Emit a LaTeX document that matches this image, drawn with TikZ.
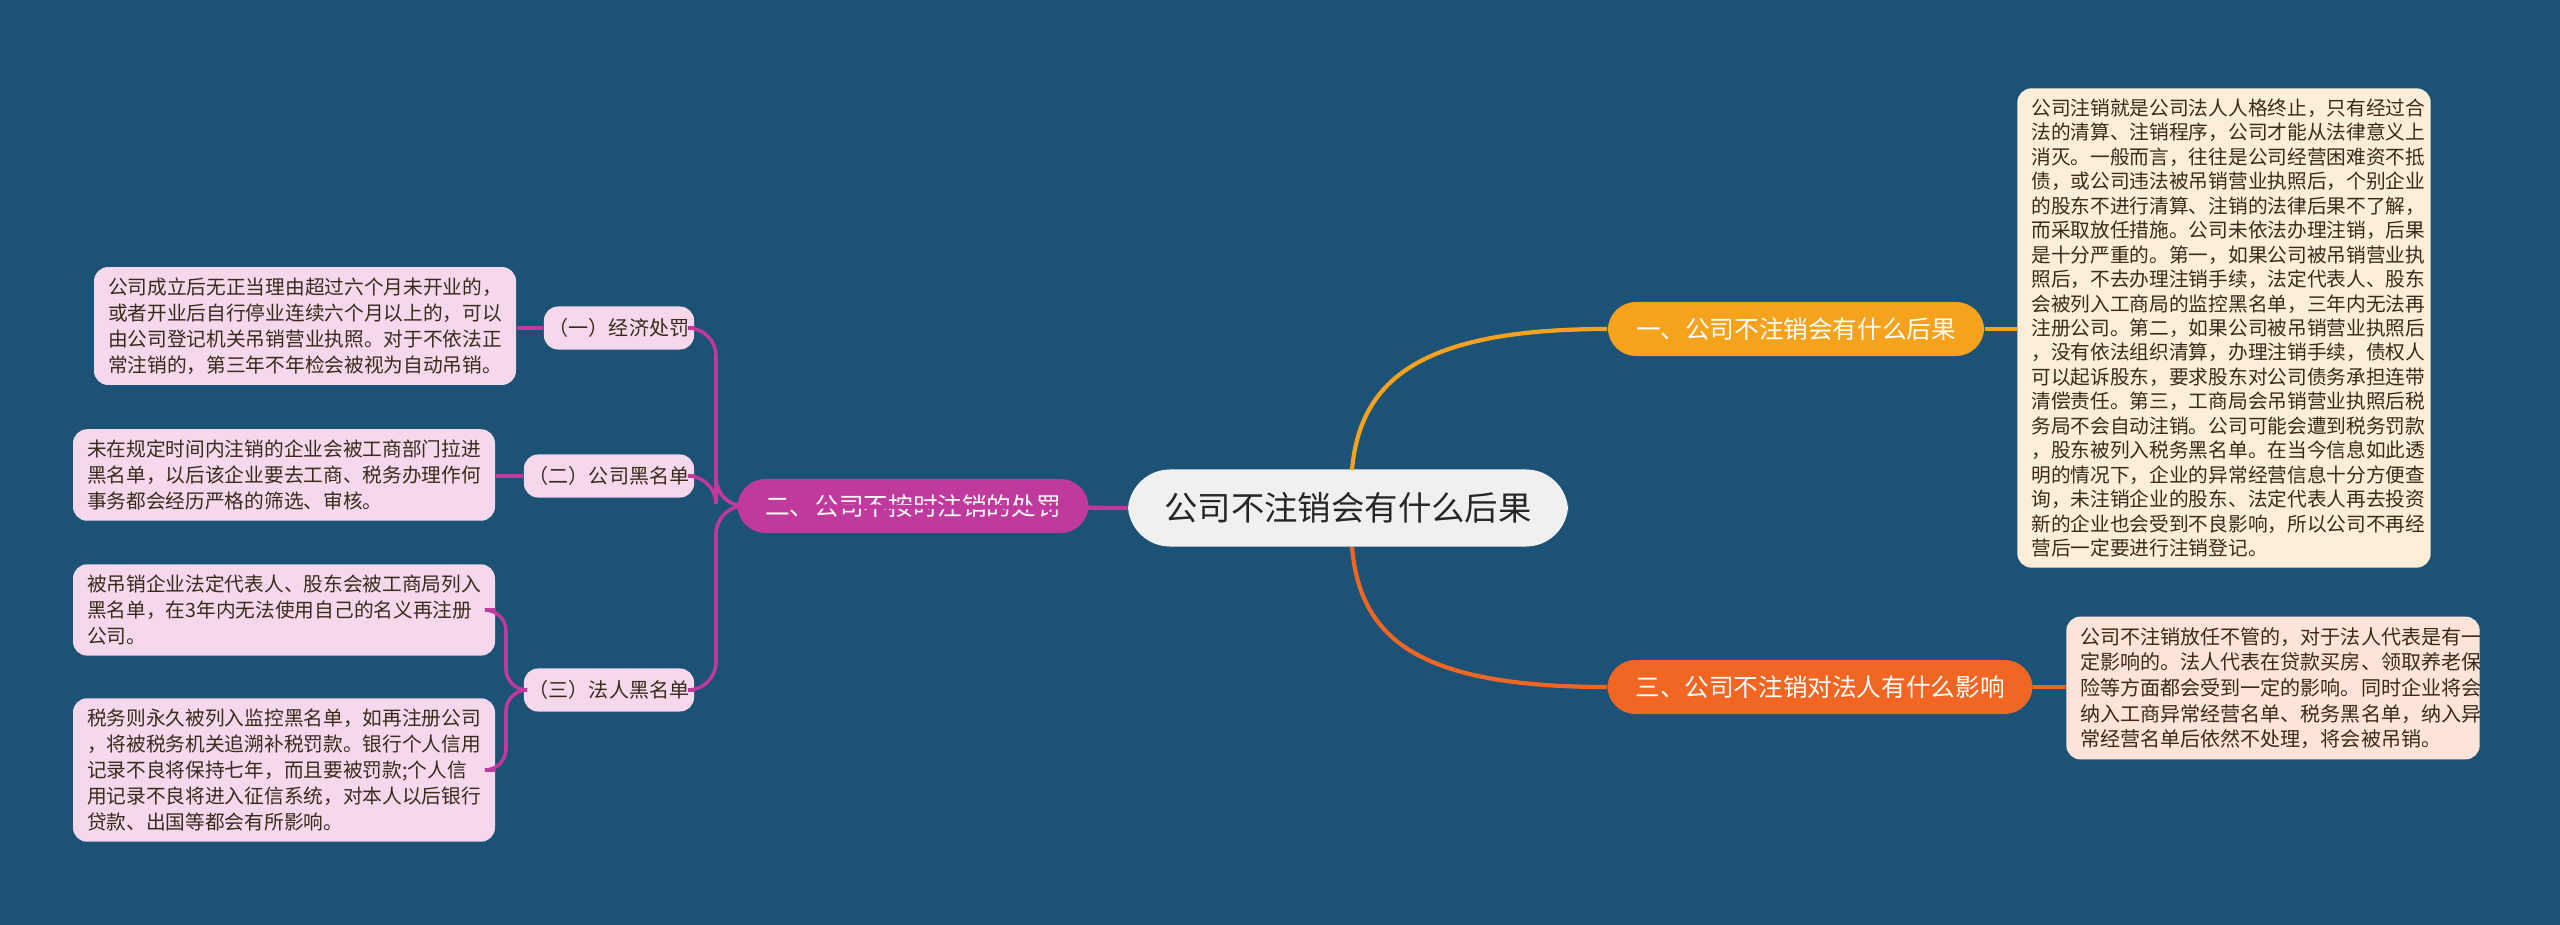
\documentclass[tikz,border=0pt]{standalone}
\usepackage{fontspec}
\setmainfont{Noto Sans CJK SC}
\definecolor{bg}{HTML}{1B5276}
\definecolor{cO}{HTML}{F5A21C}
\definecolor{cR}{HTML}{F26624}
\definecolor{cM}{HTML}{C0399C}
\definecolor{pinkf}{HTML}{F5D8EC}
\definecolor{cream}{HTML}{FDEED8}
\definecolor{peach}{HTML}{FDE3D8}
\definecolor{txt}{HTML}{3A2A1A}
\begin{document}
\begin{tikzpicture}[x=0.01cm,y=-0.01cm,
  leaf/.style={draw=none,rounded corners=4pt,fill=pinkf,text=txt,align=left,inner xsep=4pt,inner ysep=3pt,font=\fontsize{5.6}{7.4}\selectfont,minimum width=4.08cm},
  sub/.style={rounded corners=4pt,fill=pinkf,text=txt,font=\fontsize{5.7}{7}\selectfont,minimum width=1.7cm,minimum height=0.43cm,inner sep=1pt,align=right},
  branch/.style={rounded corners=8pt,text=white,font=\fontsize{7}{8}\selectfont,minimum height=0.54cm,inner xsep=6pt},
  rbox/.style={rounded corners=4pt,text=txt,align=left,inner xsep=4pt,inner ysep=3pt,text width=3.85cm}]
\fill[bg] (0,0) rectangle (2560,925);
\useasboundingbox (0,0) rectangle (2560,925);
% center
\node[rounded corners=12pt,fill=white!94!black,font=\fontsize{9.5}{11}\selectfont,text=black!85,minimum width=4.4cm,minimum height=0.77cm] (c) at (1348,508) {公司不注销会有什么后果};
% branches
\node[branch,fill=cO,minimum width=3.76cm] (b1) at (1796,329) {一、公司不注销会有什么后果};
\node[branch,fill=cR,minimum width=4.25cm] (b3) at (1820,687) {三、公司不注销对法人有什么影响};
\node[branch,fill=cM,minimum width=3.51cm] (b2) at (913,506) {二、公司不按时注销的处罚};
% right boxes
\node[rbox,fill=cream,font=\fontsize{5.6}{6.95}\selectfont] (r1) at (2224,328) {公司注销就是公司法人人格终止，只有经过合\\法的清算、注销程序，公司才能从法律意义上\\消灭。一般而言，往往是公司经营困难资不抵\\债，或公司违法被吊销营业执照后，个别企业\\的股东不进行清算、注销的法律后果不了解，\\而采取放任措施。公司未依法办理注销，后果\\是十分严重的。第一，如果公司被吊销营业执\\照后，不去办理注销手续，法定代表人、股东\\会被列入工商局的监控黑名单，三年内无法再\\注册公司。第二，如果公司被吊销营业执照后\\，没有依法组织清算，办理注销手续，债权人\\可以起诉股东，要求股东对公司债务承担连带\\清偿责任。第三，工商局会吊销营业执照后税\\务局不会自动注销。公司可能会遭到税务罚款\\，股东被列入税务黑名单。在当今信息如此透\\明的情况下，企业的异常经营信息十分方便查\\询，未注销企业的股东、法定代表人再去投资\\新的企业也会受到不良影响，所以公司不再经\\营后一定要进行注销登记。};
\node[rbox,fill=peach,font=\fontsize{5.7}{7.3}\selectfont] (r3) at (2273,688) {公司不注销放任不管的，对于法人代表是有一\\定影响的。法人代表在贷款买房、领取养老保\\险等方面都会受到一定的影响。同时企业将会\\纳入工商异常经营名单、税务黑名单，纳入异\\常经营名单后依然不处理，将会被吊销。};
% sub nodes
\node[sub,minimum width=1.5cm] (s1) at (619,328) {（一）经济处罚};
\node[sub] (s2) at (609,476) {（二）公司黑名单};
\node[sub] (s3) at (609,690) {（三）法人黑名单};
% leaves
\node[leaf] (l1) at (305,326) {公司成立后无正当理由超过六个月未开业的，\\或者开业后自行停业连续六个月以上的，可以\\由公司登记机关吊销营业执照。对于不依法正\\常注销的，第三年不年检会被视为自动吊销。};
\node[leaf] (l2) at (284,475) {未在规定时间内注销的企业会被工商部门拉进\\黑名单，以后该企业要去工商、税务办理作何\\事务都会经历严格的筛选、审核。};
\node[leaf] (l3) at (284,610) {被吊销企业法定代表人、股东会被工商局列入\\黑名单，在3年内无法使用自己的名义再注册\\公司。};
\node[leaf] (l4) at (284,770) {税务则永久被列入监控黑名单，如再注册公司\\，将被税务机关追溯补税罚款。银行个人信用\\记录不良将保持七年，而且要被罚款;个人信\\用记录不良将进入征信系统，对本人以后银行\\贷款、出国等都会有所影响。};
% connectors
\draw[cO,line width=1.2pt] (1352,470) .. controls (1360,380) and (1420,329) .. (b1.west);
\draw[cR,line width=1.2pt] (1352,547) .. controls (1360,640) and (1420,687) .. (b3.west);
\draw[cM,line width=1.2pt] (c.west) -- (b2.west);
\draw[cO,line width=1pt] (b1.east) -- (b1.east -| r1.west);
\draw[cR,line width=1pt] (b3.east) -- (b3.east -| r3.west);
\draw[cM,line width=1pt,rounded corners=8pt] (b2.west) -- (716,506) |- (s1.east);
\draw[cM,line width=1pt,rounded corners=8pt] (b2.west) -- (716,506) |- (s2.east);
\draw[cM,line width=1pt,rounded corners=8pt] (b2.west) -- (716,506) |- (s3.east);
\draw[cM,line width=1pt] (s1.west) -- (s1.west -| l1.east);
\draw[cM,line width=1pt] (s2.west) -- (s2.west -| l2.east);
\draw[cM,line width=1pt,rounded corners=6pt] (s3.west) -- (506,690) |- (l3.east);
\draw[cM,line width=1pt,rounded corners=6pt] (s3.west) -- (506,690) |- (l4.east);
\end{tikzpicture}
\end{document}
